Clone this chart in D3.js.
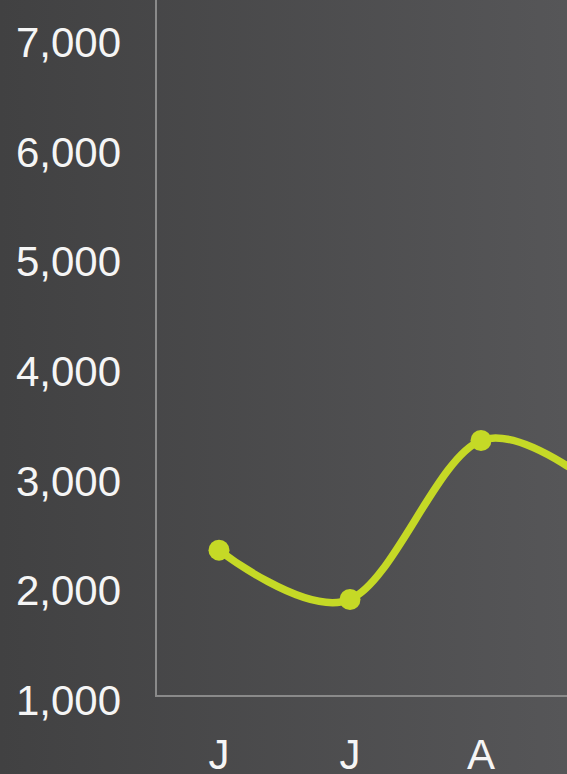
<!DOCTYPE html>
<html>
<head>
<meta charset="utf-8">
<script src="https://cdn.jsdelivr.net/npm/d3@7"></script>
<style>
  html, body { margin: 0; padding: 0; background: #444; overflow: hidden; }
  svg { display: block; }
</style>
</head>
<body>
<div id="chart"></div>
<script>
// data
const months = ["J", "J", "A", "S"];
const values = [2330, 1880, 3330, 2800];
const yTicks = [1000, 2000, 3000, 4000, 5000, 6000, 7000];

const width = 567, height = 774;
const margin = { top: 38, left: 156, bottom: 78 };
const step = 131;

const svg = d3.select("#chart").append("svg")
    .attr("width", width)
    .attr("height", height);

// fond en degrade
const defs = svg.append("defs");
const grad = defs.append("linearGradient")
    .attr("id", "bg")
    .attr("x1", "0%").attr("x2", "100%")
    .attr("y1", "0%").attr("y2", "0%");
grad.append("stop").attr("offset", "0%").attr("stop-color", "#414142");
grad.append("stop").attr("offset", "100%").attr("stop-color", "#565658");

svg.append("rect")
    .attr("width", width)
    .attr("height", height)
    .attr("fill", "url(#bg)");

const y = d3.scaleLinear()
    .domain([1000, 7000])
    .range([height - margin.bottom, margin.top]);

// les mois continuent au-dela du bord droit
const x = d3.scalePoint()
    .domain(d3.range(months.length))
    .range([margin.left + 63, margin.left + 63 + step * (months.length - 1)]);

const font = "'Liberation Sans', Arial, sans-serif";

// axe y (labels seulement)
svg.append("g")
    .selectAll("text")
    .data(yTicks)
    .join("text")
    .attr("x", 121)
    .attr("y", d => y(d) + 19)
    .attr("text-anchor", "end")
    .style("font-family", font)
    .style("font-size", "42px")
    .style("fill", "#f5f5f5")
    .text(d => d3.format(",")(d));

// axe x (labels)
svg.append("g")
    .selectAll("text")
    .data(months)
    .join("text")
    .attr("x", (d, i) => x(i))
    .attr("y", 769)
    .attr("text-anchor", "middle")
    .style("font-family", font)
    .style("font-size", "42px")
    .style("fill", "#f5f5f5")
    .text(d => d);

// lignes d'axe
svg.append("path")
    .attr("d", `M${margin.left},0 V${y(1000)} H${width}`)
    .attr("fill", "none")
    .attr("stroke", "#8a8a8a")
    .attr("stroke-width", 2);

// courbe
const line = d3.line()
    .x((d, i) => x(i))
    .y(d => y(d))
    .curve(d3.curveCatmullRom.alpha(0));

svg.append("path")
    .datum(values)
    .attr("d", line)
    .attr("fill", "none")
    .attr("stroke", "#c5d926")
    .attr("stroke-width", 7.5)
    .attr("stroke-linecap", "round");

svg.append("g")
    .selectAll("circle")
    .data(values)
    .join("circle")
    .attr("cx", (d, i) => x(i))
    .attr("cy", d => y(d))
    .attr("r", 10.5)
    .attr("fill", "#c5d926");
</script>
</body>
</html>
